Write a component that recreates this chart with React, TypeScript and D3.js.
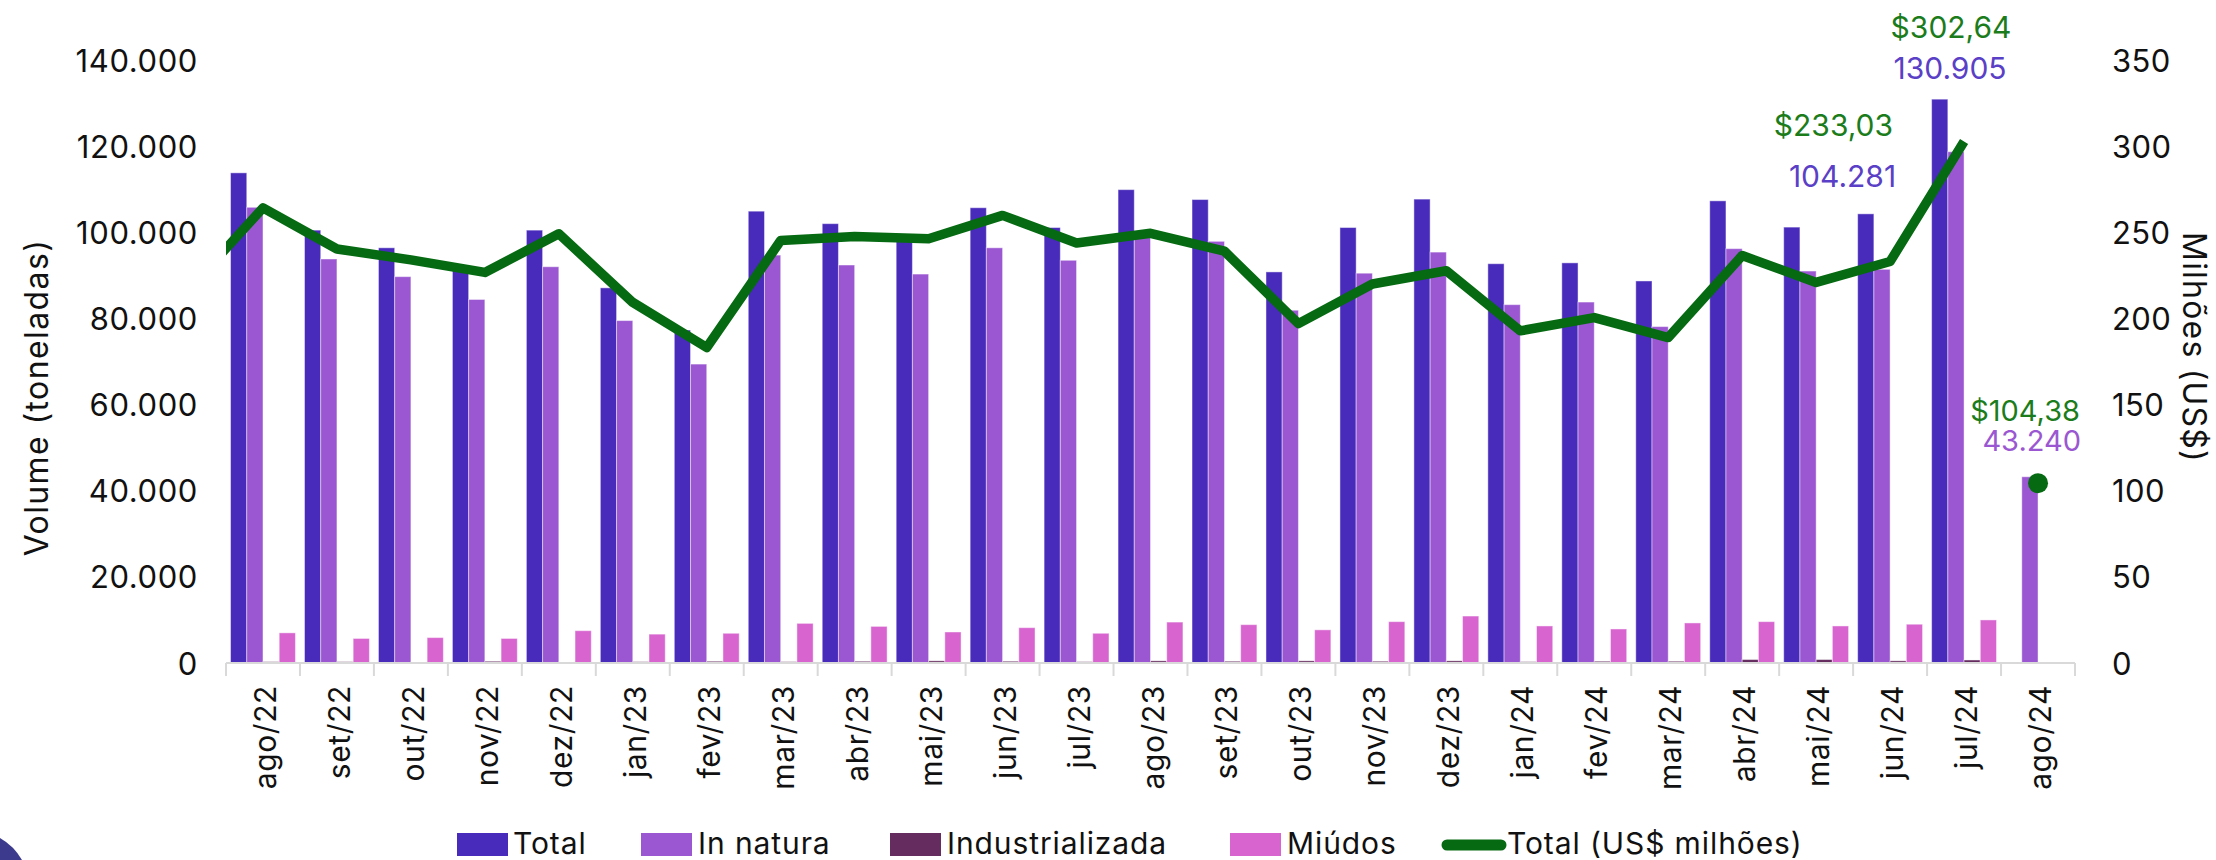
import * as d3 from 'd3';

const meses = ['ago/22', 'set/22', 'out/22', 'nov/22', 'dez/22', 'jan/23', 'fev/23', 'mar/23', 'abr/23', 'mai/23', 'jun/23', 'jul/23', 'ago/23', 'set/23', 'out/23', 'nov/23', 'dez/23', 'jan/24', 'fev/24', 'mar/24', 'abr/24', 'mai/24', 'jun/24', 'jul/24', 'ago/24'];

// volumes em toneladas
const total = [113800, 100500, 96400, 91200, 100500, 87100, 77300, 104900, 102000, 98800, 105700, 101100, 109900, 107600, 90800, 101100, 107700, 92700, 92900, 88700, 107300, 101200, 104281, 130905, null];
const inNatura = [105800, 93800, 89700, 84400, 92000, 79500, 69400, 94700, 92400, 90300, 96400, 93500, 99000, 97900, 81900, 90500, 95400, 83200, 83800, 78100, 96200, 91000, 91400, 118700, 43240];
const industrializada = [300, 300, 200, 400, 200, 300, 400, 300, 400, 500, 400, 300, 500, 400, 500, 400, 500, 300, 400, 400, 800, 800, 500, 700, null];
const miudos = [7000, 5700, 5900, 5700, 7500, 6700, 6900, 9200, 8500, 7200, 8200, 6900, 9500, 8900, 7700, 9600, 10900, 8600, 7900, 9300, 9600, 8600, 9000, 10000, null];

// US$ milhões (jul/22 fica fora da área, só a ponta da linha aparece)
const valorJul22 = 217;
const valorUS = [264.2, 240.3, 234.0, 226.7, 249.1, 209.3, 183.1, 245.2, 247.5, 246.2, 259.8, 243.8, 249.4, 239.0, 197.0, 220.0, 227.7, 192.8, 200.5, 188.9, 236.5, 220.9, 233.03, 302.64, 104.38];

const volTicks = [0, 20000, 40000, 60000, 80000, 100000, 120000, 140000];
const usTicks = [0, 50, 100, 150, 200, 250, 300, 350];

const series = [
  { key: 'Total', values: total, color: '#482BBA' },
  { key: 'In natura', values: inNatura, color: '#9A57D1' },
  { key: 'Industrializada', values: industrializada, color: '#652C5F' },
  { key: 'Miúdos', values: miudos, color: '#D764CF' },
];
const lineColor = '#066A12';
const font = 'Inter, "Noto Sans", sans-serif';

const fmtVol = (v: number) => d3.format(',')(v).replace(/,/g, '.');
const fmtUS = (v: number) => '$' + v.toFixed(2).replace('.', ',');

export default function App() {
  const W = 2216, H = 860;
  const left = 226, right = 2075, top = 60, bottom = 663;

  const x = d3.scaleBand<string>().domain(meses).range([left, right]).padding(0);
  const xs = d3.scaleBand<string>().domain(series.map(s => s.key)).range([0, x.bandwidth()]).paddingOuter(0.28).paddingInner(0);
  const yL = d3.scaleLinear().domain([0, 140000]).range([bottom, top]);
  const yR = d3.scaleLinear().domain([0, 350]).range([bottom, top]);
  const cx = (m: string) => x(m)! + x.bandwidth() / 2;

  const linePts: [number, number][] = [[cx(meses[0]) - x.step(), yR(valorJul22)]];
  meses.slice(0, 24).forEach((m, i) => linePts.push([cx(m), yR(valorUS[i])]));
  const line = d3.line();

  const last = meses.length - 1;
  const iJul = 23, iJun = 22;

  const legend = [
    { label: 'Total', color: series[0].color, bx: 457, tx: 513 },
    { label: 'In natura', color: series[1].color, bx: 641, tx: 698 },
    { label: 'Industrializada', color: series[2].color, bx: 890, tx: 947 },
    { label: 'Miúdos', color: series[3].color, bx: 1230, tx: 1287 },
  ];

  return (
    <div>
      <style>{`body{margin:0}`}</style>
      <svg width={W} height={H} style={{ display: 'block', background: '#fff', fontFamily: font }}>
        <defs>
          <clipPath id="plot"><rect x={left} y={0} width={right - left} height={H} /></clipPath>
        </defs>

        {/* barras */}
        {series.map(s => (
          <g key={s.key} fill={s.color}>
            {meses.map((m, i) => {
              const v = s.values[i];
              if (v == null) return null;
              return <rect key={m} x={x(m)! + xs(s.key)!} y={yL(v)} width={xs.bandwidth()} height={bottom - yL(v)}
                stroke="rgba(255,255,255,0.45)" strokeWidth={1} />;
            })}
          </g>
        ))}

        {/* eixo x */}
        <line x1={left} x2={right} y1={bottom} y2={bottom} stroke="#d9d9d9" strokeWidth={2} />
        {[...meses.map(m => x(m)!), right].map((t, i) => (
          <line key={i} x1={t} x2={t} y1={bottom} y2={bottom + 13} stroke="#d9d9d9" strokeWidth={2} />
        ))}
        {meses.map(m => (
          <text key={m} transform={`translate(${cx(m) + 2},${bottom + 22}) rotate(-90)`} textAnchor="end"
            dominantBaseline="central" fontSize={30} letterSpacing={0.6} fill="#111">{m}</text>
        ))}

        {/* eixo esquerdo */}
        {volTicks.map(t => (
          <text key={t} x={198} y={yL(t)} textAnchor="end" dominantBaseline="central" fontSize={31} letterSpacing={0.6} fill="#111">{fmtVol(t)}</text>
        ))}
        <text transform={`translate(36,${(top + bottom) / 2 + 36}) rotate(-90)`} textAnchor="middle" dominantBaseline="central"
          fontSize={32} letterSpacing={1.4} fill="#111">Volume (toneladas)</text>

        {/* eixo direito */}
        {usTicks.map(t => (
          <text key={t} x={2112} y={yR(t)} textAnchor="start" dominantBaseline="central" fontSize={31} letterSpacing={0.4} fill="#111">{t}</text>
        ))}
        <text transform={`translate(2194,${(top + bottom) / 2 - 14}) rotate(90)`} textAnchor="middle" dominantBaseline="central"
          fontSize={32} letterSpacing={1.2} fill="#111">Milhões (US$)</text>

        {/* linha US$ */}
        <path d={line(linePts)!} fill="none" stroke={lineColor} strokeWidth={9.5} strokeLinejoin="round" clipPath="url(#plot)" />
        <circle cx={cx(meses[last])} cy={yR(valorUS[last])} r={10} fill={lineColor} />

        {/* rótulos */}
        <text x={cx(meses[iJul]) - 13} y={yR(valorUS[iJul]) - 104} textAnchor="middle" fontSize={30} fill="#1B7C1B">{fmtUS(valorUS[iJul])}</text>
        <text x={cx(meses[iJul]) - 14} y={yL(total[iJul]!) - 20} textAnchor="middle" fontSize={30} fill="#5A40C6">{fmtVol(total[iJul]!)}</text>
        <text x={cx(meses[iJun]) + 3} y={yR(valorUS[iJun]) - 126} textAnchor="end" fontSize={30} fill="#1B7C1B">{fmtUS(valorUS[iJun])}</text>
        <text x={cx(meses[iJun]) + 6} y={yL(total[iJun]!) - 27} textAnchor="end" fontSize={30} fill="#5A40C6">{fmtVol(total[iJun]!)}</text>
        <text x={cx(meses[last]) + 42} y={yR(valorUS[last]) - 62} textAnchor="end" fontSize={29} fill="#1B7C1B">{fmtUS(valorUS[last])}</text>
        <text x={cx(meses[last]) + 43} y={yL(inNatura[last]) - 26} textAnchor="end" fontSize={29} fill="#9A57D1">{fmtVol(inNatura[last])}</text>

        {/* legenda */}
        {legend.map(l => (
          <g key={l.label}>
            <rect x={l.bx} y={833} width={51} height={23} fill={l.color} />
            <text x={l.tx} y={843} dominantBaseline="central" fontSize={30} letterSpacing={0.9} fill="#111">{l.label}</text>
          </g>
        ))}
        <line x1={1447} x2={1501} y1={845} y2={845} stroke={lineColor} strokeWidth={11} strokeLinecap="round" />
        <text x={1507} y={843} dominantBaseline="central" fontSize={30} letterSpacing={0.9} fill="#111">Total (US$ milhões)</text>

        {/* canto */}
        <path d="M0,838 Q14,846 22,860 L0,860 Z" fill="#3B3A8C" />
      </svg>
    </div>
  );
}
